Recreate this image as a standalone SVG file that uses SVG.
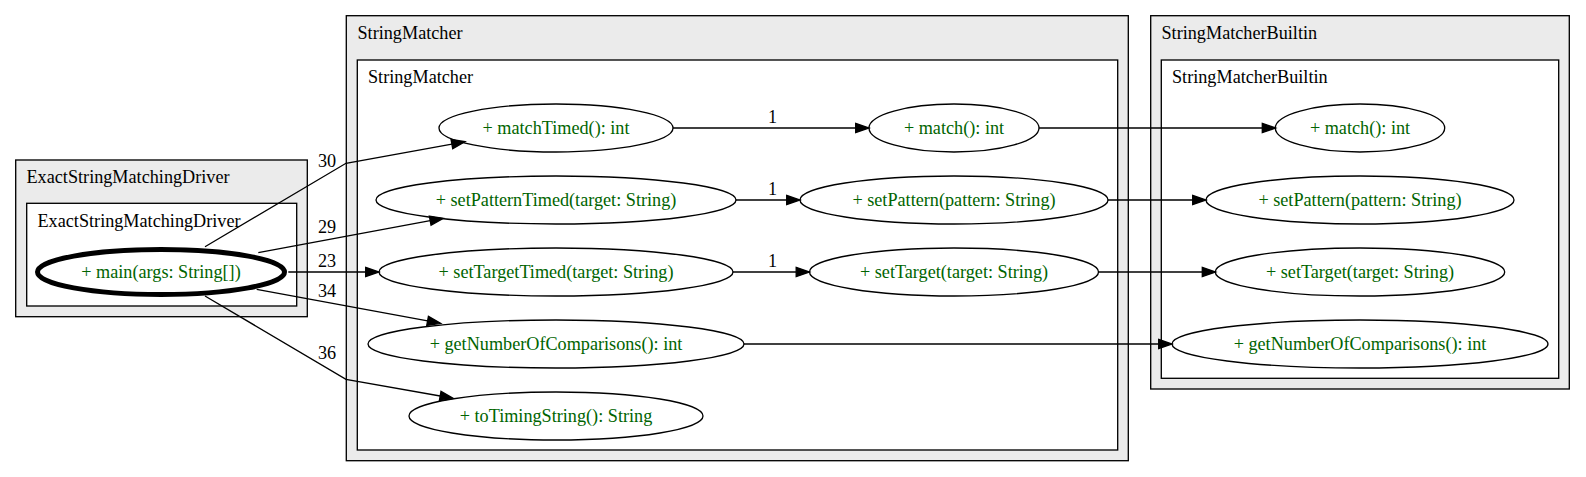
<svg xmlns="http://www.w3.org/2000/svg" width="1586" height="477" viewBox="0 0 1586 477">
<style>
text { font-family: "Liberation Serif", "Times New Roman", serif; font-size: 18.2px; }
.ct { fill: #000; }
.nt { fill: #006400; text-anchor: middle; }
.el { fill: #000; text-anchor: middle; }
.outer { fill: #ebebeb; stroke: #000; stroke-width: 1.33; }
.inner { fill: #fff; stroke: #000; stroke-width: 1.33; }
.node { fill: none; stroke: #000; stroke-width: 1.33; }
.edge { fill: none; stroke: #000; stroke-width: 1.33; marker-end: url(#arr); }
</style>
<defs>
<marker id="arr" markerUnits="userSpaceOnUse" markerWidth="20" markerHeight="20" refX="0" refY="4.67" orient="auto" overflow="visible">
<path d="M0,0 L13.3,4.67 L0,9.33 Z" fill="#000" stroke="#000" stroke-width="1.33"/>
</marker>
</defs>
<rect width="1586" height="477" fill="#fff"/>

<g id="cluster-ExactStringMatchingDriver">
<rect class="outer" x="15.7" y="160" width="291.6" height="156.7"/>
<text class="ct" x="26.5" y="183">ExactStringMatchingDriver</text>
<rect class="inner" x="26.7" y="203.3" width="270" height="102.7"/>
<text class="ct" x="37.5" y="226.5">ExactStringMatchingDriver</text>
</g>
<g id="cluster-StringMatcher">
<rect class="outer" x="346.3" y="15.7" width="782" height="445"/>
<text class="ct" x="357.5" y="38.5">StringMatcher</text>
<rect class="inner" x="357.3" y="60" width="760.4" height="390"/>
<text class="ct" x="368" y="83">StringMatcher</text>
</g>
<g id="cluster-StringMatcherBuiltin">
<rect class="outer" x="1150.7" y="15.7" width="418.6" height="373.3"/>
<text class="ct" x="1161.5" y="38.5">StringMatcherBuiltin</text>
<rect class="inner" x="1161.3" y="60" width="397.4" height="318.3"/>
<text class="ct" x="1172" y="83">StringMatcherBuiltin</text>
</g>

<g id="node-main">
<ellipse cx="161" cy="272" rx="123.5" ry="22.5" fill="none" stroke="#000" stroke-width="5"/>
<text class="nt" x="161" y="277.5">+ main(args: String[])</text>
</g>
<g id="node-matchTimed">
<ellipse class="node" cx="556" cy="128" rx="117" ry="24"/>
<text class="nt" x="556" y="133.5">+ matchTimed(): int</text>
</g>
<g id="node-setPatternTimed">
<ellipse class="node" cx="556" cy="200" rx="180" ry="24"/>
<text class="nt" x="556" y="205.5">+ setPatternTimed(target: String)</text>
</g>
<g id="node-setTargetTimed">
<ellipse class="node" cx="556" cy="272" rx="177" ry="24"/>
<text class="nt" x="556" y="277.5">+ setTargetTimed(target: String)</text>
</g>
<g id="node-getNumberOfComparisons-sm">
<ellipse class="node" cx="556" cy="344" rx="188" ry="24"/>
<text class="nt" x="556" y="349.5">+ getNumberOfComparisons(): int</text>
</g>
<g id="node-toTimingString">
<ellipse class="node" cx="556" cy="416" rx="147" ry="24"/>
<text class="nt" x="556" y="421.5">+ toTimingString(): String</text>
</g>
<g id="node-match-sm">
<ellipse class="node" cx="954" cy="128" rx="85" ry="24"/>
<text class="nt" x="954" y="133.5">+ match(): int</text>
</g>
<g id="node-setPattern-sm">
<ellipse class="node" cx="954" cy="200" rx="154" ry="24"/>
<text class="nt" x="954" y="205.5">+ setPattern(pattern: String)</text>
</g>
<g id="node-setTarget-sm">
<ellipse class="node" cx="954" cy="272" rx="144.5" ry="24"/>
<text class="nt" x="954" y="277.5">+ setTarget(target: String)</text>
</g>
<g id="node-match-b">
<ellipse class="node" cx="1360" cy="128" rx="84.7" ry="24"/>
<text class="nt" x="1360" y="133.5">+ match(): int</text>
</g>
<g id="node-setPattern-b">
<ellipse class="node" cx="1360" cy="200" rx="154" ry="24"/>
<text class="nt" x="1360" y="205.5">+ setPattern(pattern: String)</text>
</g>
<g id="node-setTarget-b">
<ellipse class="node" cx="1360" cy="272" rx="144.7" ry="24"/>
<text class="nt" x="1360" y="277.5">+ setTarget(target: String)</text>
</g>
<g id="node-getNumberOfComparisons-b">
<ellipse class="node" cx="1360" cy="344" rx="188" ry="24"/>
<text class="nt" x="1360" y="349.5">+ getNumberOfComparisons(): int</text>
</g>

<g id="connectors">
<path class="edge" d="M205,246.7 L346,163.3 L451.9,144.1"/>
<text class="el" x="327" y="166.5">30</text>
<path class="edge" d="M258.3,252.7 L430.2,220.7"/>
<text class="el" x="327" y="233.3">29</text>
<path class="edge" d="M288.3,272 L365.7,272"/>
<text class="el" x="327" y="266.7">23</text>
<path class="edge" d="M256.7,289.3 L427.6,320.9"/>
<text class="el" x="327" y="297.3">34</text>
<path class="edge" d="M205,296 L346,379.3 L440.2,396"/>
<text class="el" x="327" y="359.3">36</text>
<path class="edge" d="M673,128 L855.7,128"/>
<text class="el" x="772.5" y="122.7">1</text>
<path class="edge" d="M736,200 L786.7,200"/>
<text class="el" x="772.5" y="195">1</text>
<path class="edge" d="M733,272 L796.2,272"/>
<text class="el" x="772.5" y="266.7">1</text>
<path class="edge" d="M1039,128 L1262.3,128"/>
<path class="edge" d="M1108,200 L1192.7,200"/>
<path class="edge" d="M1098.5,272 L1202.3,272"/>
<path class="edge" d="M744,344 L1158.7,344"/>
</g>
</svg>
